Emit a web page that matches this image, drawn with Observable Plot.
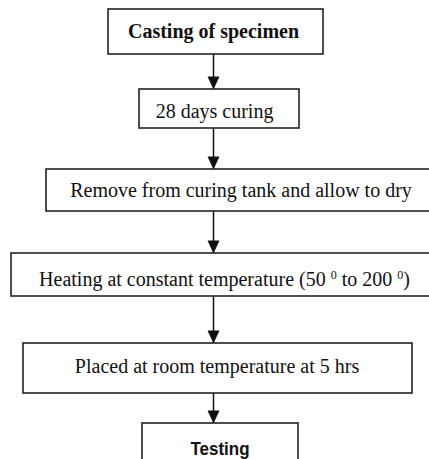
<!DOCTYPE html>
<html><head><meta charset="utf-8">
<script src="https://cdn.jsdelivr.net/npm/d3@7"></script>
<script src="https://cdn.jsdelivr.net/npm/@observablehq/plot@0.6"></script>
<style>html,body{margin:0;padding:0;background:#fff;overflow:hidden;width:429px;height:459px}</style>
</head><body><div id="chart"></div>
<script>
// Flowchart steps (top to bottom)
const steps = [
  "Casting of specimen",
  "28 days curing",
  "Remove from curing tank and allow to dry",
  "Heating at constant temperature (50 \u2070 to 200 \u2070)",
  "Placed at room temperature at 5 hrs",
  "Testing"
];
// text style group for each step
const styleGroup = ["serifBold", "serif", "serif", "serif", "serif", "sansBold"];
// box edges (chart units)
const boxLeft   = [108, 139, 46, 11, 23, 142];
const boxRight  = [323, 299, 440, 440, 412, 298];
const boxTop    = [9, 89, 169, 253, 343, 423];
const boxBottom = [54, 128, 211, 296, 393, 490];
// label anchor (center x, baseline y)
const labelX = [213, 214, 240.5, 224, 216.5, 219.5];
const labelBaseline = [37, 117, 196, 285, 372, 454];
// connector x position
const connectorX = 213;

const boxes = steps.map((s, i) => ({
  label: s, group: styleGroup[i],
  x1: boxLeft[i], x2: boxRight[i], y1: boxTop[i], y2: boxBottom[i],
  tx: labelX[i], ty: labelBaseline[i]
}));
const links = steps.slice(1).map((s, i) => ({
  x: connectorX, y1: boxBottom[i], y2: boxTop[i + 1]
}));

const headDown = {
  draw(ctx) {
    ctx.moveTo(-6, -13);
    ctx.lineTo(6, -13);
    ctx.lineTo(0, 0);
    ctx.closePath();
  }
};

const serif = "'Liberation Serif', 'Times New Roman', serif";
const sans = "'Liberation Sans', Arial, sans-serif";

const chart = Plot.plot({
  width: 429, height: 459,
  margin: 0,
  x: {domain: [0, 429], range: [0, 429], axis: null},
  y: {domain: [0, 459], range: [0, 459], axis: null},
  style: {background: "#fff", overflow: "hidden"},
  marks: [
    Plot.ruleX(links, {x: "x", y1: "y1", y2: "y2", stroke: "#111", strokeWidth: 1.5}),
    Plot.dot(links, {x: "x", y: "y2", symbol: headDown, fill: "#111", stroke: "none"}),
    Plot.rect(boxes, {x1: "x1", x2: "x2", y1: "y1", y2: "y2", fill: "#fff", stroke: "#222", strokeWidth: 1.6}),
    Plot.text(boxes.filter(d => d.group === "serif"), {x: "tx", y: "ty", text: "label", lineAnchor: "bottom", fontFamily: serif, fontSize: 20, fill: "#111"}),
    Plot.text(boxes.filter(d => d.group === "serifBold"), {x: "tx", y: "ty", text: "label", lineAnchor: "bottom", fontFamily: serif, fontWeight: "bold", fontSize: 20, fill: "#111"}),
    Plot.text(boxes.filter(d => d.group === "sansBold"), {x: "tx", y: "ty", text: "label", lineAnchor: "bottom", fontFamily: sans, fontWeight: "bold", fontSize: 19, fill: "#111", className: "sans-bold-label"})
  ]
});
document.getElementById("chart").appendChild(chart);

// render the degree marks as small raised zeros
d3.select(chart).selectAll("text").each(function () {
  const t = this.textContent;
  if (!t.includes("\u2070")) return;
  const sel = d3.select(this);
  sel.text(null);
  let raised = false;
  t.split(/(\u2070)/).forEach(part => {
    if (part === "") return;
    if (part === "\u2070") {
      sel.append("tspan").attr("font-size", 12).attr("dy", -7).text("0");
      raised = true;
    } else {
      const ts = sel.append("tspan").text(part);
      if (raised) { ts.attr("dy", 7); raised = false; }
    }
  });
});
// condensed bold sans label
d3.select(chart).selectAll(".sans-bold-label text")
  .attr("textLength", 59).attr("lengthAdjust", "spacingAndGlyphs");
</script>
</body></html>
